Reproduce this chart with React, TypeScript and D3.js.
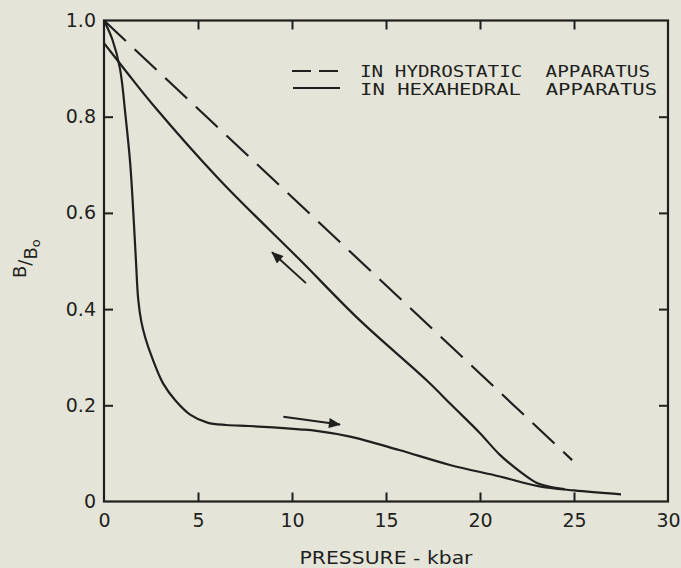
import React, { useEffect, useRef } from 'react'
import * as d3 from 'd3'

// pressure (kbar) and B/Bo
const hydroP = [0, 24.9]
const hydroB = [1.0, 0.086]

const loadP = [0, 0.45, 0.85, 1.15, 1.4, 1.56, 1.7, 1.82, 1.98, 2.2, 2.55, 3.15, 3.8, 4.6, 5.5, 6.5, 7.7, 9, 10.4, 11.3, 13.1, 15.7, 18.4, 21.06, 23.1, 25, 27.5]
const loadB = [1.0, 0.96, 0.9, 0.8, 0.7, 0.6, 0.5, 0.42, 0.375, 0.34, 0.3, 0.245, 0.21, 0.18, 0.164, 0.159, 0.157, 0.154, 0.15, 0.147, 0.135, 0.107, 0.076, 0.052, 0.032, 0.023, 0.015]

const unloadP = [0, 1.2, 2.6, 6.17, 10.43, 13.6, 17.16, 18.5, 20, 21.06, 22.2, 23.0, 23.8, 24.5]
const unloadB = [0.953, 0.893, 0.825, 0.668, 0.502, 0.377, 0.252, 0.2, 0.142, 0.097, 0.06, 0.039, 0.03, 0.026]

// arrows: [tailP, tailB, tipP, tipB]
const arrowUp = [10.74, 0.454, 8.94, 0.518]
const arrowDown = [9.54, 0.176, 12.55, 0.16]

const xTicks = [0, 5, 10, 15, 20, 25, 30]
const yTicks = [0, 0.2, 0.4, 0.6, 0.8, 1.0]

const legendLabels = ['IN HYDROSTATIC  APPARATUS', 'IN HEXAHEDRAL  APPARATUS']

const W = 681, H = 568
const ink = '#1f1f1d'

export default function App() {
  const ref = useRef<SVGSVGElement>(null)

  useEffect(() => {
    const svg = d3.select(ref.current)
    svg.selectAll('*').remove()

    const x = d3.scaleLinear().domain([0, 30]).range([104, 668])
    const y = d3.scaleLinear().domain([0, 1]).range([501.5, 20.5])

    svg.append('rect').attr('width', W).attr('height', H).attr('fill', '#e4e4d8')

    const defs = svg.append('defs')
    defs.append('marker')
      .attr('id', 'head')
      .attr('viewBox', '0 0 12 10')
      .attr('refX', 11).attr('refY', 5)
      .attr('markerWidth', 7).attr('markerHeight', 5)
      .attr('markerUnits', 'strokeWidth')
      .attr('orient', 'auto')
      .append('path').attr('d', 'M0,0 L12,5 L0,10 Z').attr('fill', ink)

    // frame
    svg.append('rect')
      .attr('x', x(0)).attr('y', y(1))
      .attr('width', x(30) - x(0)).attr('height', y(0) - y(1))
      .attr('fill', 'none').attr('stroke', ink).attr('stroke-width', 2.2)

    const font = '"DejaVu Sans", sans-serif'
    const fmtY = (d: any) => (d === 0 ? '0' : d3.format('.1f')(d))

    const gl = svg.append('g').attr('transform', `translate(${x(0)},0)`)
      .call(d3.axisLeft(y).tickValues(yTicks).tickSize(-9).tickPadding(8).tickFormat(fmtY as any))
    const gb = svg.append('g').attr('transform', `translate(0,${y(0)})`)
      .call(d3.axisBottom(x).tickValues(xTicks).tickSize(-9).tickPadding(12).tickFormat(d3.format('d') as any))
    const gt = svg.append('g').attr('transform', `translate(0,${y(1)})`)
      .call(d3.axisTop(x).tickValues(xTicks.slice(1, -1)).tickSize(-9).tickFormat(() => ''))
    const gr = svg.append('g').attr('transform', `translate(${x(30)},0)`)
      .call(d3.axisRight(y).tickValues(yTicks.slice(1, -1)).tickSize(-9).tickFormat(() => ''))

    ;[gl, gb, gt, gr].forEach(g => {
      g.select('.domain').remove()
      g.selectAll('line').attr('stroke', ink).attr('stroke-width', 2)
      g.selectAll('text').attr('fill', ink).attr('font-family', font).attr('font-size', 19)
    })
    gl.selectAll('.tick').filter((d: any) => d === 0 || d === 1).select('line').remove()
    gb.selectAll('.tick').filter((d: any) => d === 0 || d === 30).select('line').remove()

    const line = d3.line<[number, number]>()
      .x(d => x(d[0])).y(d => y(d[1]))
      .curve(d3.curveCatmullRom.alpha(0.5))

    const zip = (a: number[], b: number[]) => a.map((v, i) => [v, b[i]] as [number, number])

    svg.append('path').attr('d', line(zip(hydroP, hydroB)))
      .attr('fill', 'none').attr('stroke', ink).attr('stroke-width', 2.2)
      .attr('stroke-dasharray', '30,12')

    svg.append('path').attr('d', line(zip(loadP, loadB)))
      .attr('fill', 'none').attr('stroke', ink).attr('stroke-width', 2.2)

    svg.append('path').attr('d', line(zip(unloadP, unloadB)))
      .attr('fill', 'none').attr('stroke', ink).attr('stroke-width', 2.2)

    ;[arrowUp, arrowDown].forEach(a => {
      svg.append('line')
        .attr('x1', x(a[0])).attr('y1', y(a[1]))
        .attr('x2', x(a[2])).attr('y2', y(a[3]))
        .attr('stroke', ink).attr('stroke-width', 2)
        .attr('marker-end', 'url(#head)')
    })

    // legend
    const lg = svg.append('g')
    lg.append('line').attr('x1', 292).attr('x2', 340).attr('y1', 71).attr('y2', 71)
      .attr('stroke', ink).attr('stroke-width', 2.2).attr('stroke-dasharray', '19,8')
    lg.append('line').attr('x1', 293).attr('x2', 340).attr('y1', 88).attr('y2', 88)
      .attr('stroke', ink).attr('stroke-width', 2.2)
    lg.selectAll('text.lab').data(legendLabels).enter().append('text')
      .attr('x', 360).attr('y', (d, i) => 76.5 + i * 18)
      .attr('textLength', (d, i) => (i === 0 ? 290 : 297))
      .attr('lengthAdjust', 'spacingAndGlyphs')
      .attr('font-family', '"DejaVu Sans Mono", monospace')
      .attr('font-size', 16).attr('fill', ink)
      .attr('xml:space', 'preserve')
      .style('white-space', 'pre')
      .text(d => d)

    // axis titles
    svg.append('text')
      .attr('x', 386).attr('y', 564).attr('text-anchor', 'middle')
      .attr('font-family', font).attr('font-size', 17).attr('fill', ink)
      .attr('textLength', 173).attr('lengthAdjust', 'spacingAndGlyphs')
      .text('PRESSURE - kbar')

    const yl = svg.append('text')
      .attr('transform', 'translate(26,278) rotate(-90)')
      .attr('font-family', font).attr('font-size', 18).attr('fill', ink)
    yl.append('tspan').text('B')
    yl.append('tspan').attr('dy', 5).text('/')
    yl.append('tspan').attr('dy', 6).text('B')
    yl.append('tspan').attr('dy', 3).attr('font-size', 13).text('o')
  }, [])

  return (
    <svg ref={ref} width={W} height={H}
      style={{ position: 'absolute', left: 0, top: 0, display: 'block' }} />
  )
}
